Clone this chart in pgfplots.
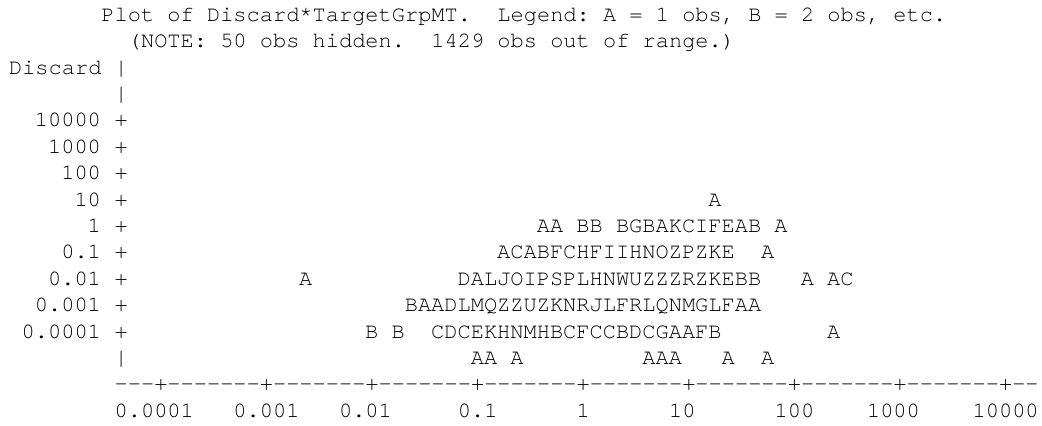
\documentclass[border=0pt]{standalone}
\usepackage{pgfplots}
\pgfplotsset{compat=1.18}
\usepackage{fontspec}
\newfontfamily\sas[Ligatures=TeXOff]{TeX Gyre Cursor}
\newcommand\sasfont{\sas\fontsize{16.5pt}{19.8pt}\selectfont\frenchspacing}
% text line: column (left edge), line number (1 = top), text
\newcommand\tline[3]{\node[anchor=base west,inner sep=0pt,font=\sasfont] at ({6.6+9.9*#1},{302.775-19.8*(#2-1)}) {#3};}
% right-aligned y label ending at column 6, then "+" at column 8
\newcommand\ylab[2]{\node[anchor=base east,inner sep=0pt,font=\sasfont] at ({6.6+9.9*7},{302.775-19.8*(#1-1)}) {#2};
  \tline{8}{#1}{+}}
\begin{document}
\begin{tikzpicture}[x=1pt,y=1pt]
\begin{axis}[
  at={(0,0)}, anchor=south west,
  scale only axis, width=781.5pt, height=318.75pt,
  xmin=-5.520833, xmax=4.346591,
  ymin=-7.530303, ymax=8.568182,
  hide axis, clip=false,
]
\addplot[draw=none, mark=none, nodes near coords, point meta=explicit symbolic,
  every node near coord/.append style={anchor=base, inner sep=0pt, yshift=-4.7pt, font=\sasfont, text=black}]
  table[meta=label] {
x y label
1.25 1 A
-0.375 0 A
-0.25 0 A
0 0 B
0.125 0 B
0.375 0 B
0.5 0 G
0.625 0 B
0.75 0 A
0.875 0 K
1 0 C
1.125 0 I
1.25 0 F
1.375 0 E
1.5 0 A
1.625 0 B
1.875 0 A
-0.75 -1 A
-0.625 -1 C
-0.5 -1 A
-0.375 -1 B
-0.25 -1 F
-0.125 -1 C
0 -1 H
0.125 -1 F
0.25 -1 I
0.375 -1 I
0.5 -1 H
0.625 -1 N
0.75 -1 O
0.875 -1 Z
1 -1 P
1.125 -1 Z
1.25 -1 K
1.375 -1 E
1.75 -1 A
-2.625 -2 A
-1.125 -2 D
-1 -2 A
-0.875 -2 L
-0.75 -2 J
-0.625 -2 O
-0.5 -2 I
-0.375 -2 P
-0.25 -2 S
-0.125 -2 P
0 -2 L
0.125 -2 H
0.25 -2 N
0.375 -2 W
0.5 -2 U
0.625 -2 Z
0.75 -2 Z
0.875 -2 Z
1 -2 R
1.125 -2 Z
1.25 -2 K
1.375 -2 E
1.5 -2 B
1.625 -2 B
2.125 -2 A
2.375 -2 A
2.5 -2 C
-1.625 -3 B
-1.5 -3 A
-1.375 -3 A
-1.25 -3 D
-1.125 -3 L
-1 -3 M
-0.875 -3 Q
-0.75 -3 Z
-0.625 -3 Z
-0.5 -3 U
-0.375 -3 Z
-0.25 -3 K
-0.125 -3 N
0 -3 R
0.125 -3 J
0.25 -3 L
0.375 -3 F
0.5 -3 R
0.625 -3 L
0.75 -3 Q
0.875 -3 N
1 -3 M
1.125 -3 G
1.25 -3 L
1.375 -3 F
1.5 -3 A
1.625 -3 A
-2 -4 B
-1.75 -4 B
-1.375 -4 C
-1.25 -4 D
-1.125 -4 C
-1 -4 E
-0.875 -4 K
-0.75 -4 H
-0.625 -4 N
-0.5 -4 M
-0.375 -4 H
-0.25 -4 B
-0.125 -4 C
0 -4 F
0.125 -4 C
0.25 -4 C
0.375 -4 B
0.5 -4 D
0.625 -4 C
0.75 -4 G
0.875 -4 A
1 -4 A
1.125 -4 F
1.25 -4 B
2.375 -4 A
-1 -5 A
-0.875 -5 A
-0.625 -5 A
0.625 -5 A
0.75 -5 A
0.875 -5 A
1.375 -5 A
1.75 -5 A
};
\end{axis}
\tline{7}{1}{Plot of Discard*TargetGrpMT.~~Legend: A = 1 obs, B = 2 obs, etc.}
\tline{9}{2}{(NOTE: 50 obs hidden.~~1429 obs out of range.)}
\tline{0}{3}{Discard}
\tline{8}{3}{|}
\tline{8}{4}{|}
\ylab{5}{10000}
\ylab{6}{1000}
\ylab{7}{100}
\ylab{8}{10}
\ylab{9}{1}
\ylab{10}{0.1}
\ylab{11}{0.01}
\ylab{12}{0.001}
\ylab{13}{0.0001}
\tline{8}{14}{|}
\tline{8}{15}{---+-------+-------+-------+-------+-------+-------+-------+-------+--}
\tline{8}{16}{0.0001}
\tline{17}{16}{0.001}
\tline{25}{16}{0.01}
\tline{34}{16}{0.1}
\tline{43}{16}{1}
\tline{50}{16}{10}
\tline{58}{16}{100}
\tline{65}{16}{1000}
\tline{73}{16}{10000}
\pgfresetboundingbox
\path (0,0) rectangle (781.5,318.75);
\end{tikzpicture}
\end{document}
